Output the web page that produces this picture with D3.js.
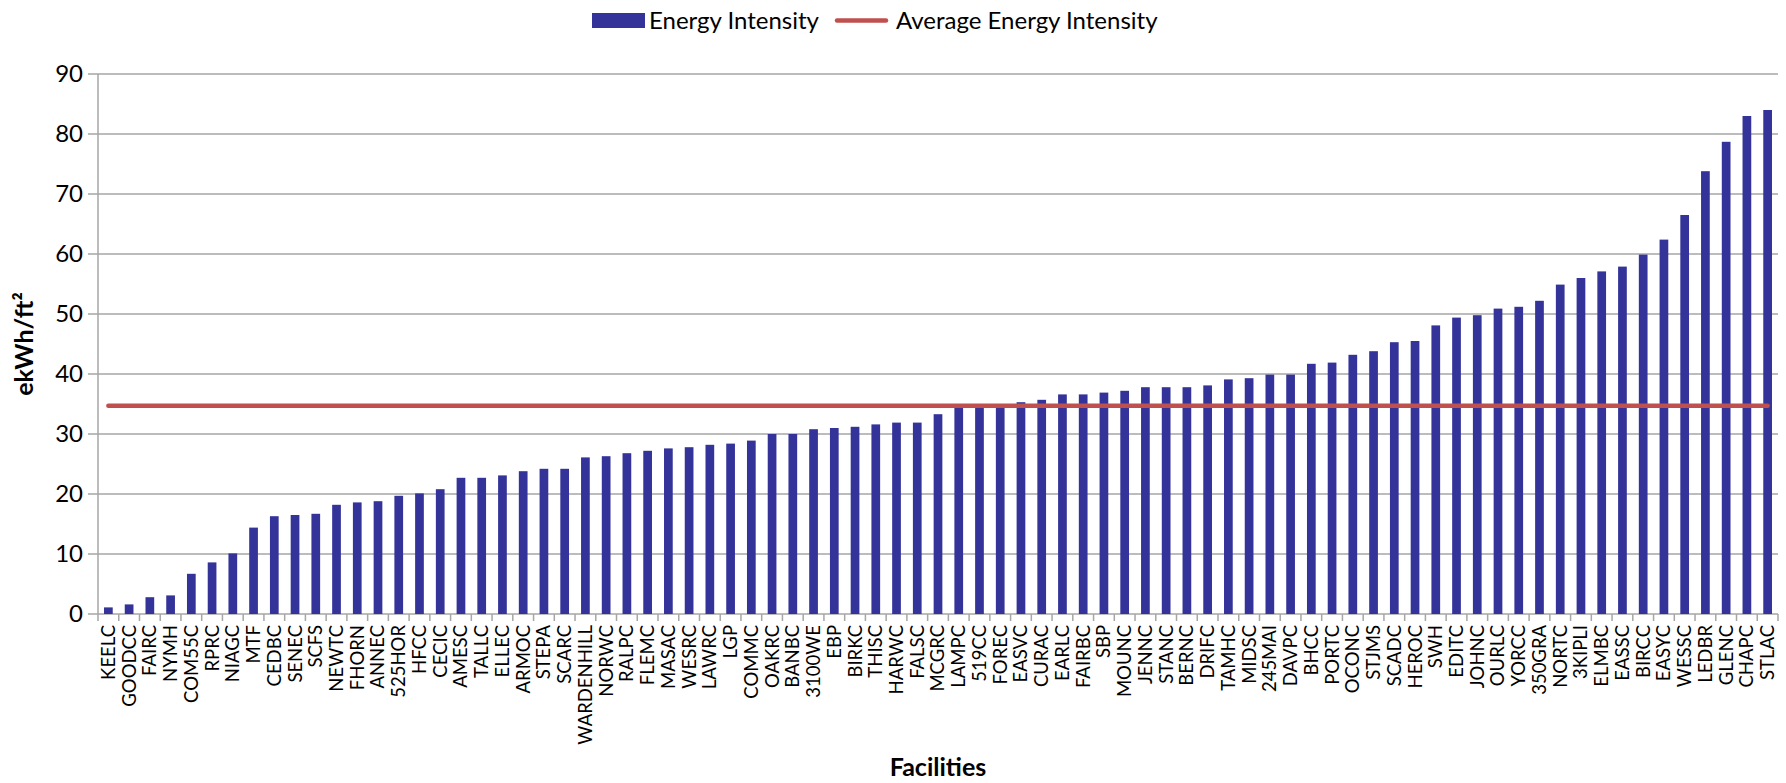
<!DOCTYPE html>
<html>
<head>
<meta charset="utf-8">
<script src="https://cdn.jsdelivr.net/npm/d3@7"></script>
<style>
  html, body { margin: 0; padding: 0; background: #ffffff; }
  svg { display: block; }
  text { font-family: Lato, "Open Sans", sans-serif; fill: #000; }
</style>
</head>
<body>
<svg id="chart" width="1786" height="783"></svg>
<script>
const categories = ["KEELC","GOODCC","FAIRC","NYMH","COM55C","RPRC","NIAGC","MTF","CEDBC","SENEC","SCFS","NEWTC","FHORN","ANNEC","525HOR","HFCC","CECIC","AMESC","TALLC","ELLEC","ARMOC","STEPA","SCARC","WARDENHILL","NORWC","RALPC","FLEMC","MASAC","WESRC","LAWRC","LGP","COMMC","OAKRC","BANBC","3100WE","EBP","BIRKC","THISC","HARWC","FALSC","MCGRC","LAMPC","519CC","FOREC","EASVC","CURAC","EARLC","FAIRBC","SBP","MOUNC","JENNC","STANC","BERNC","DRIFC","TAMHC","MIDSC","245MAI","DAVPC","BHCC","PORTC","OCONC","STJMS","SCADC","HEROC","SWH","EDITC","JOHNC","OURLC","YORCC","350GRA","NORTC","3KIPLI","ELMBC","EASSC","BIRCC","EASYC","WESSC","LEDBR","GLENC","CHAPC","STLAC"];
const energyIntensity = [1.1,1.6,2.8,3.1,6.7,8.6,10.1,14.4,16.3,16.5,16.7,18.2,18.6,18.8,19.7,20.1,20.8,22.7,22.7,23.1,23.8,24.2,24.2,26.1,26.3,26.8,27.2,27.6,27.8,28.2,28.4,28.9,30.0,30.0,30.8,31.0,31.2,31.6,31.9,31.9,33.3,34.4,34.6,34.7,35.3,35.7,36.6,36.6,36.9,37.2,37.8,37.8,37.8,38.1,39.1,39.3,39.9,39.9,41.7,41.9,43.2,43.8,45.3,45.5,48.1,49.4,49.8,50.9,51.2,52.2,54.9,56.0,57.1,57.9,59.9,62.4,66.5,73.8,78.7,83.0,84.0];
const averageEnergyIntensity = categories.map(() => 34.7);
const yTicks = [0,10,20,30,40,50,60,70,80,90];
const seriesNames = ["Energy Intensity", "Average Energy Intensity"];
const xTitle = "Facilities";
const yTitle = "ekWh/ft²";

(function () {
const barColor = "#333399";
const lineColor = "#C0504D";
const gridColor = "#A6A6A6";

const svg = d3.select("#chart");
const pLeft = 98, pRight = 1778, pTop = 74, pBottom = 614;

const x = d3.scaleBand().domain(categories).range([pLeft, pRight]).paddingInner(0).paddingOuter(0);
const y = d3.scaleLinear().domain([0, 90]).range([pBottom, pTop]);
const step = x.step();
const barW = step * 0.42;

// gridlines
svg.append("g").selectAll("line").data(yTicks.filter(d => d > 0)).join("line")
  .attr("x1", pLeft - 10).attr("x2", pRight)
  .attr("y1", d => y(d)).attr("y2", d => y(d))
  .attr("stroke", gridColor).attr("stroke-width", 1.5);

// y axis line
svg.append("line").attr("x1", pLeft).attr("x2", pLeft).attr("y1", pTop).attr("y2", pBottom)
  .attr("stroke", gridColor).attr("stroke-width", 1.5);
// baseline
svg.append("line").attr("x1", pLeft - 10).attr("x2", pRight).attr("y1", pBottom).attr("y2", pBottom)
  .attr("stroke", gridColor).attr("stroke-width", 1.5);

// x tick marks at category boundaries
const boundaries = categories.map(c => x(c)).concat([x(categories[categories.length-1]) + step]);
svg.append("g").selectAll("line").data(boundaries).join("line")
  .attr("x1", d => d).attr("x2", d => d)
  .attr("y1", pBottom).attr("y2", pBottom + 7)
  .attr("stroke", gridColor).attr("stroke-width", 1.5);

// y tick labels
svg.append("g").selectAll("text").data(yTicks).join("text")
  .attr("x", pLeft - 15).attr("y", d => y(d)).attr("dy", "0.35em")
  .attr("text-anchor", "end").attr("font-size", 24).text(d => d);

// bars
svg.append("g").selectAll("rect").data(categories).join("rect")
  .attr("x", (c) => x(c) + step / 2 - barW / 2)
  .attr("width", barW)
  .attr("y", (c, i) => y(energyIntensity[i]))
  .attr("height", (c, i) => y(0) - y(energyIntensity[i]))
  .attr("fill", barColor);

// average line
const line = d3.line().x((d, i) => x(categories[i]) + step / 2).y(d => y(d));
svg.append("path").datum(averageEnergyIntensity).attr("d", line)
  .attr("fill", "none").attr("stroke", lineColor).attr("stroke-width", 4.5)
  .attr("stroke-linecap", "round");

// x labels
svg.append("g").selectAll("text").data(categories).join("text")
  .attr("transform", c => `translate(${x(c) + step / 2},${pBottom + 11}) rotate(-90)`)
  .attr("text-anchor", "end").attr("dy", "0.35em").attr("font-size", 18.5).text(c => c);

// axis titles
svg.append("text").attr("x", (pLeft + pRight) / 2).attr("y", 776).attr("text-anchor", "middle")
  .attr("font-size", 25).attr("font-weight", "bold").text(xTitle);
svg.append("text").attr("transform", `translate(33,${(pTop + pBottom) / 2}) rotate(-90)`)
  .attr("text-anchor", "middle").attr("font-size", 25).attr("font-weight", "bold").text(yTitle);

// legend
const lg = svg.append("g");
lg.append("rect").attr("x", 592).attr("y", 13).attr("width", 53).attr("height", 15).attr("fill", barColor);
lg.append("text").attr("x", 649).attr("y", 20.5).attr("dy", "0.35em").attr("font-size", 24).text(seriesNames[0]);
lg.append("line").attr("x1", 837).attr("x2", 886).attr("y1", 20.5).attr("y2", 20.5)
  .attr("stroke", lineColor).attr("stroke-width", 4.5).attr("stroke-linecap", "round");
lg.append("text").attr("x", 896).attr("y", 20.5).attr("dy", "0.35em").attr("font-size", 24).text(seriesNames[1]);
})();
</script>
</body>
</html>
